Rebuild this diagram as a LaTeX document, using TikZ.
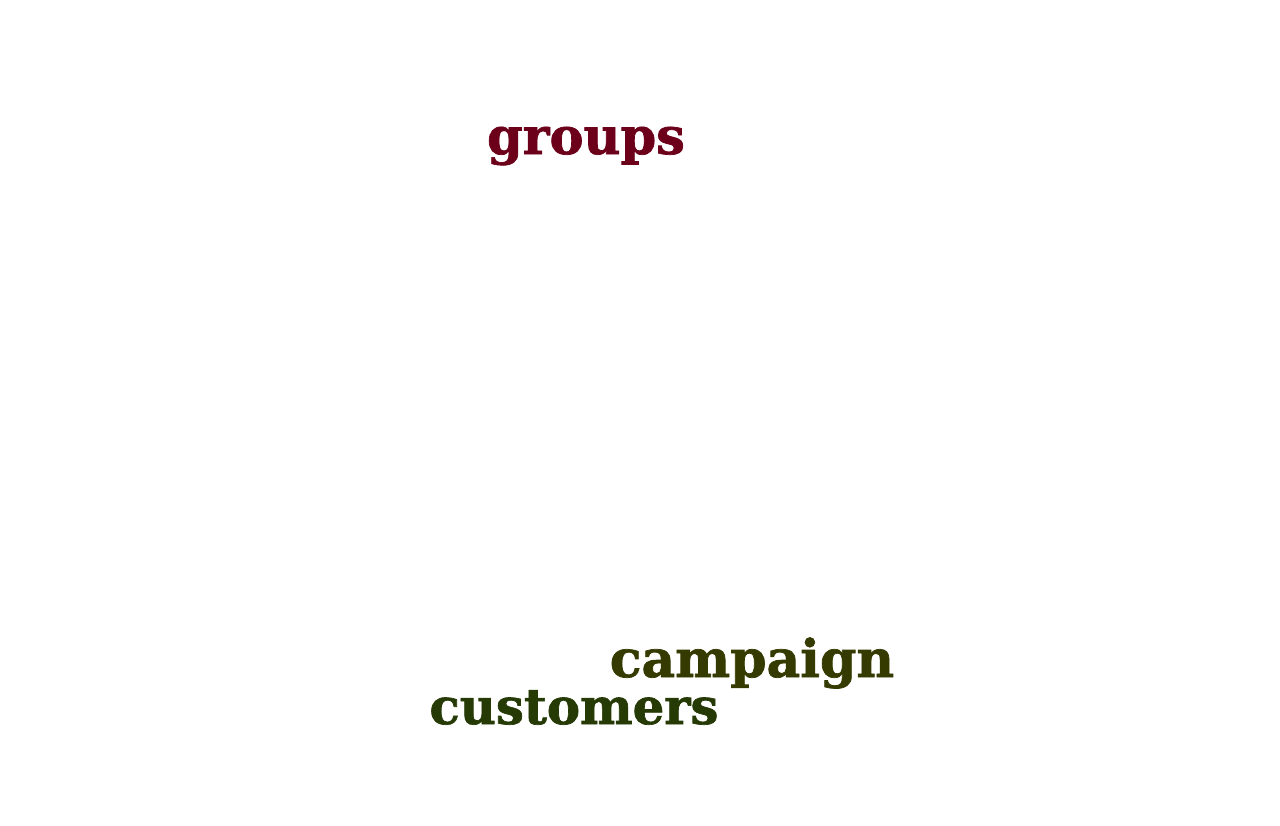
\documentclass[tikz,border=0pt]{standalone}
\usepackage{fontspec}
\setmainfont{DejaVu Serif}
\newfontface\heavyfont{DejaVu Serif Bold}[FakeBold=1.4]
\usepackage{tikz}

\definecolor{groupsred}{RGB}{108,0,26}
\definecolor{campaigngreen}{RGB}{52,58,0}
\definecolor{customersgreen}{RGB}{38,58,6}

\begin{document}
\begin{tikzpicture}[x=0.02cm, y=-0.02cm,
    word/.style={anchor=base, inner sep=0pt}]

      \useasboundingbox (0, 0) rectangle (1280, 825);

      \node[word, text=groupsred, font=\fontsize{29}{29}\heavyfont] (groups) at (586, 154) {groups};

      \node[word, text=campaigngreen, font=\fontsize{29.6}{29.6}\heavyfont] (campaign) at (752, 677) {campaign};

      \node[word, text=customersgreen, font=\fontsize{28.3}{28.3}\heavyfont] (customers) at (574, 724) {customers};

\end{tikzpicture}
\end{document}
